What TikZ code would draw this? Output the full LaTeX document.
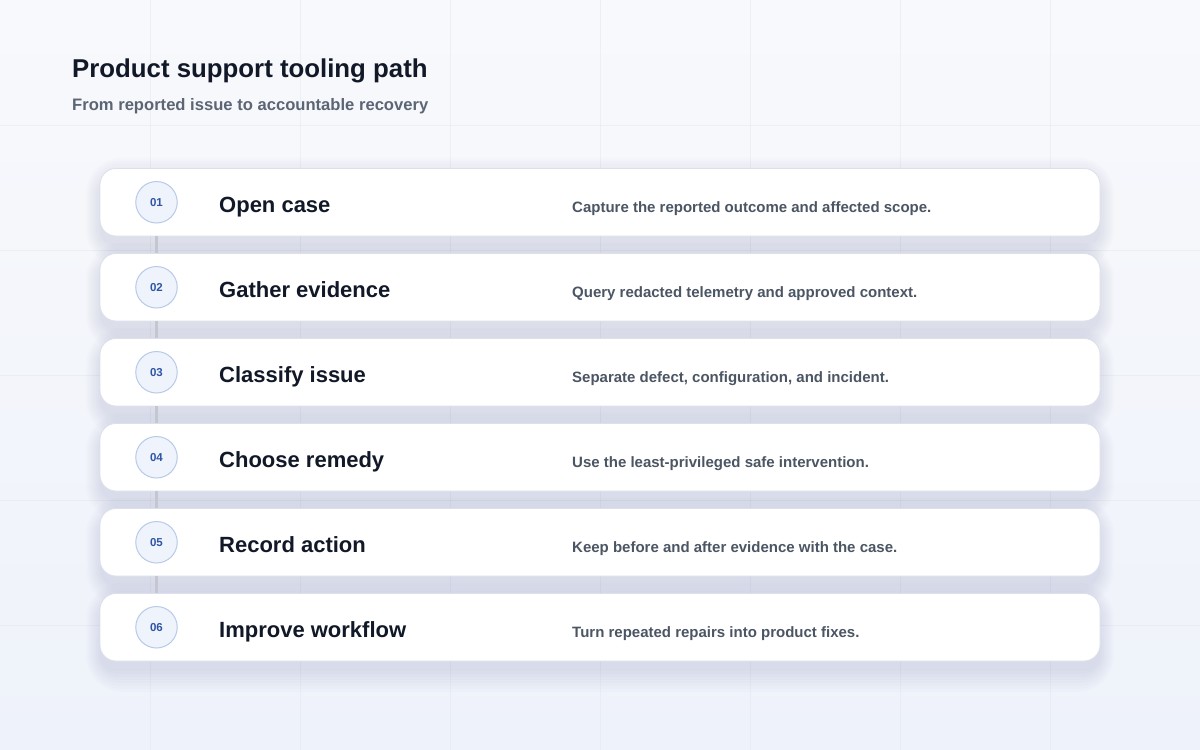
\documentclass[tikz,border=0pt]{standalone}
\usepackage{fontspec}
\setmainfont{Liberation Sans}
\definecolor{bgtop}{HTML}{F8F9FC}
\definecolor{bgbot}{HTML}{EEF2FA}
\definecolor{gridc}{HTML}{E4E9F2}
\definecolor{shadowc}{HTML}{1E2A50}
\definecolor{cardline}{HTML}{DCE0EA}
\definecolor{titlec}{HTML}{111827}
\definecolor{subc}{HTML}{5B6574}
\definecolor{descc}{HTML}{4B5563}
\definecolor{numfill}{HTML}{EEF3FC}
\definecolor{numline}{HTML}{B8CAE8}
\definecolor{numtext}{HTML}{2F55A4}
\definecolor{connc}{HTML}{C4C7CF}
\begin{document}
\begin{tikzpicture}[x=1pt,y=-1pt,
  card/.style={draw=cardline, line width=0.8pt, fill=white, rounded corners=16pt,
    minimum width=1000pt, minimum height=67.5pt, inner sep=0pt},
  numdot/.style={circle, draw=numline, line width=1pt, fill=numfill, minimum size=41.5pt,
    inner sep=0pt, text=numtext, font=\fontsize{11.5}{13}\selectfont\bfseries},
  steptitle/.style={anchor=base west, inner sep=0pt, text=titlec, font=\fontsize{22}{26}\selectfont\bfseries},
  stepdesc/.style={anchor=base west, inner sep=0pt, text=descc, font=\fontsize{15}{18}\selectfont\bfseries},
  conn/.style={draw=connc, line width=3.5pt},
  gridline/.style={draw=gridc, line width=0.8pt, opacity=0.6}]
\useasboundingbox (0,0) rectangle (1200,750);
\shade[top color=bgtop, bottom color=bgbot] (0,0) rectangle (1200,750);
\foreach \gx in {150,300,...,1050} \draw[gridline] (\gx,0) -- (\gx,750);
\foreach \gy in {125,250,...,625} \draw[gridline] (0,\gy) -- (1200,\gy);
% titles
\node[anchor=base west, inner sep=0pt, text=titlec, font=\fontsize{25.8}{30}\selectfont\bfseries] (title) at (72,77) {Product support tooling path};
\node[anchor=base west, inner sep=0pt, text=subc, font=\fontsize{16.6}{20}\selectfont\bfseries] (subtitle) at (72,110) {From reported issue to accountable recovery};
% shadows
\foreach \i in {1,...,6} {
  \pgfmathsetmacro\yt{168.5+85*(\i-1)}
  \pgfmathsetmacro\yb{\yt+67.5}
  \foreach \k in {0,...,7} {
    \pgfmathsetmacro\s{3*\k}
    \pgfmathsetmacro\sx{2*\k}
    \pgfmathsetmacro\rr{16+\s}
    \fill[shadowc, opacity=0.011, rounded corners=\rr pt] ({100-\sx},{\yt+10-\s}) rectangle ({1100+\sx},{\yb+10+\s});
  }
}
% cards
\foreach \i/\num/\ttl/\dsc in {
  1/01/{Open case}/{Capture the reported outcome and affected scope.},
  2/02/{Gather evidence}/{Query redacted telemetry and approved context.},
  3/03/{Classify issue}/{Separate defect, configuration, and incident.},
  4/04/{Choose remedy}/{Use the least-privileged safe intervention.},
  5/05/{Record action}/{Keep before and after evidence with the case.},
  6/06/{Improve workflow}/{Turn repeated repairs into product fixes.}} {
  \pgfmathsetmacro\yc{202.25+85*(\i-1)}
  \node[card] (card\i) at (600,\yc) {};
  \node[numdot] (num\i) at (156.5,\yc) {\num};
  \node[steptitle] (ttl\i) at (219,{\yc+10}) {\ttl};
  \node[stepdesc] (dsc\i) at (572,{\yc+10}) {\dsc};
}
% connectors
\foreach \i [evaluate=\i as \j using int(\i+1)] in {1,...,5} {
  \draw[conn] (card\i.south -| num\i) -- (card\j.north -| num\i);
}
\end{tikzpicture}
\end{document}
